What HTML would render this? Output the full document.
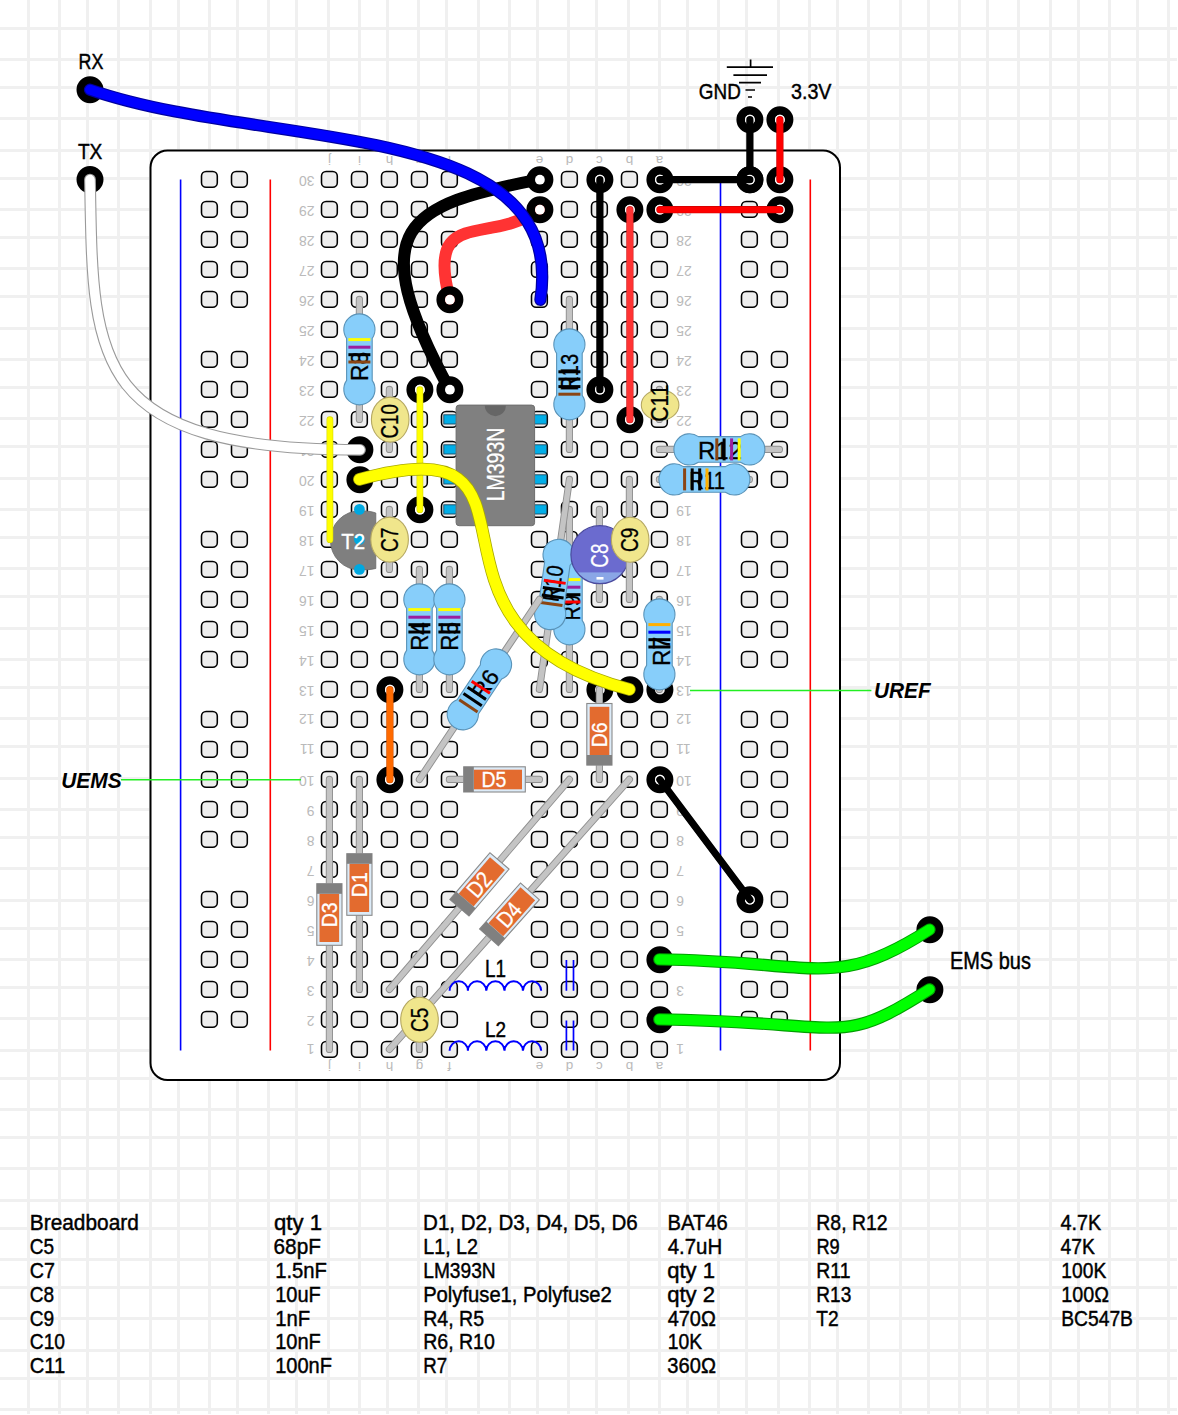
<!DOCTYPE html>
<html><head><meta charset="utf-8"><style>
html,body{margin:0;padding:0;background:#fff;width:1178px;height:1415px;overflow:hidden}
svg{display:block}
text{font-family:"Liberation Sans",sans-serif}
</style></head><body>
<svg width="1178" height="1415" viewBox="0 0 1178 1415">
<rect x="0" y="0" width="1178" height="1415" fill="#ffffff"/>
<path d="M28.5,0V1414M59.5,0V1414M87.5,0V1414M118.5,0V1414M150.5,0V1414M178.5,0V1414M209.5,0V1414M237.5,0V1414M268.5,0V1414M296.5,0V1414M328.5,0V1414M359.5,0V1414M387.5,0V1414M418.5,0V1414M446.5,0V1414M478.5,0V1414M509.5,0V1414M537.5,0V1414M568.5,0V1414M596.5,0V1414M628.5,0V1414M659.5,0V1414M687.5,0V1414M718.5,0V1414M746.5,0V1414M778.5,0V1414M809.5,0V1414M837.5,0V1414M868.5,0V1414M900.5,0V1414M928.5,0V1414M959.5,0V1414M987.5,0V1414M1018.5,0V1414M1050.5,0V1414M1078.5,0V1414M1109.5,0V1414M1137.5,0V1414M1168.5,0V1414M0,28.5H1177M0,59.5H1177M0,87.5H1177M0,118.5H1177M0,150.5H1177M0,178.5H1177M0,209.5H1177M0,237.5H1177M0,268.5H1177M0,296.5H1177M0,328.5H1177M0,359.5H1177M0,387.5H1177M0,418.5H1177M0,446.5H1177M0,478.5H1177M0,509.5H1177M0,537.5H1177M0,568.5H1177M0,596.5H1177M0,628.5H1177M0,659.5H1177M0,687.5H1177M0,718.5H1177M0,746.5H1177M0,778.5H1177M0,809.5H1177M0,837.5H1177M0,868.5H1177M0,900.5H1177M0,928.5H1177M0,959.5H1177M0,987.5H1177M0,1018.5H1177M0,1050.5H1177M0,1078.5H1177M0,1109.5H1177M0,1137.5H1177M0,1168.5H1177M0,1200.5H1177M0,1228.5H1177M0,1259.5H1177M0,1287.5H1177M0,1318.5H1177M0,1350.5H1177M0,1378.5H1177M0,1409.5H1177" stroke="#f0f0f0" stroke-width="3" fill="none"/>
<rect x="150.5" y="150.5" width="689.5" height="929.5" rx="17" ry="17" fill="#ffffff" stroke="#000" stroke-width="2"/>
<line x1="180.6" y1="179.5" x2="180.6" y2="1050.5" stroke="#0000ff" stroke-width="1.6"/>
<line x1="270.3" y1="179.5" x2="270.3" y2="1050.5" stroke="#ff0000" stroke-width="1.6"/>
<line x1="720.5" y1="179.5" x2="720.5" y2="1050.5" stroke="#0000ff" stroke-width="1.6"/>
<line x1="810.3" y1="179.5" x2="810.3" y2="1050.5" stroke="#ff0000" stroke-width="1.6"/>
<text x="314.6" y="1043.9" font-size="14" fill="#bababa" text-anchor="start" transform="rotate(180 314.6 1043.9)">1</text>
<text x="676.1" y="1043.9" font-size="14" fill="#bababa" text-anchor="end" transform="rotate(180 676.1 1043.9)">1</text>
<text x="314.6" y="1015.8" font-size="14" fill="#bababa" text-anchor="start" transform="rotate(180 314.6 1015.8)">2</text>
<text x="676.1" y="1015.8" font-size="14" fill="#bababa" text-anchor="end" transform="rotate(180 676.1 1015.8)">2</text>
<text x="314.6" y="985.8" font-size="14" fill="#bababa" text-anchor="start" transform="rotate(180 314.6 985.8)">3</text>
<text x="676.1" y="985.8" font-size="14" fill="#bababa" text-anchor="end" transform="rotate(180 676.1 985.8)">3</text>
<text x="314.6" y="955.8" font-size="14" fill="#bababa" text-anchor="start" transform="rotate(180 314.6 955.8)">4</text>
<text x="676.1" y="955.8" font-size="14" fill="#bababa" text-anchor="end" transform="rotate(180 676.1 955.8)">4</text>
<text x="314.6" y="925.8" font-size="14" fill="#bababa" text-anchor="start" transform="rotate(180 314.6 925.8)">5</text>
<text x="676.1" y="925.8" font-size="14" fill="#bababa" text-anchor="end" transform="rotate(180 676.1 925.8)">5</text>
<text x="314.6" y="895.8" font-size="14" fill="#bababa" text-anchor="start" transform="rotate(180 314.6 895.8)">6</text>
<text x="676.1" y="895.8" font-size="14" fill="#bababa" text-anchor="end" transform="rotate(180 676.1 895.8)">6</text>
<text x="314.6" y="865.8" font-size="14" fill="#bababa" text-anchor="start" transform="rotate(180 314.6 865.8)">7</text>
<text x="676.1" y="865.8" font-size="14" fill="#bababa" text-anchor="end" transform="rotate(180 676.1 865.8)">7</text>
<text x="314.6" y="835.8" font-size="14" fill="#bababa" text-anchor="start" transform="rotate(180 314.6 835.8)">8</text>
<text x="676.1" y="835.8" font-size="14" fill="#bababa" text-anchor="end" transform="rotate(180 676.1 835.8)">8</text>
<text x="314.6" y="805.8" font-size="14" fill="#bababa" text-anchor="start" transform="rotate(180 314.6 805.8)">9</text>
<text x="676.1" y="805.8" font-size="14" fill="#bababa" text-anchor="end" transform="rotate(180 676.1 805.8)">9</text>
<text x="314.6" y="775.8" font-size="14" fill="#bababa" text-anchor="start" transform="rotate(180 314.6 775.8)">10</text>
<text x="676.1" y="775.8" font-size="14" fill="#bababa" text-anchor="end" transform="rotate(180 676.1 775.8)">10</text>
<text x="314.6" y="743.9" font-size="14" fill="#bababa" text-anchor="start" transform="rotate(180 314.6 743.9)">11</text>
<text x="676.1" y="743.9" font-size="14" fill="#bababa" text-anchor="end" transform="rotate(180 676.1 743.9)">11</text>
<text x="314.6" y="714.1" font-size="14" fill="#bababa" text-anchor="start" transform="rotate(180 314.6 714.1)">12</text>
<text x="676.1" y="714.1" font-size="14" fill="#bababa" text-anchor="end" transform="rotate(180 676.1 714.1)">12</text>
<text x="314.6" y="685.8" font-size="14" fill="#bababa" text-anchor="start" transform="rotate(180 314.6 685.8)">13</text>
<text x="676.1" y="685.8" font-size="14" fill="#bababa" text-anchor="end" transform="rotate(180 676.1 685.8)">13</text>
<text x="314.6" y="655.8" font-size="14" fill="#bababa" text-anchor="start" transform="rotate(180 314.6 655.8)">14</text>
<text x="676.1" y="655.8" font-size="14" fill="#bababa" text-anchor="end" transform="rotate(180 676.1 655.8)">14</text>
<text x="314.6" y="625.8" font-size="14" fill="#bababa" text-anchor="start" transform="rotate(180 314.6 625.8)">15</text>
<text x="676.1" y="625.8" font-size="14" fill="#bababa" text-anchor="end" transform="rotate(180 676.1 625.8)">15</text>
<text x="314.6" y="595.8" font-size="14" fill="#bababa" text-anchor="start" transform="rotate(180 314.6 595.8)">16</text>
<text x="676.1" y="595.8" font-size="14" fill="#bababa" text-anchor="end" transform="rotate(180 676.1 595.8)">16</text>
<text x="314.6" y="565.8" font-size="14" fill="#bababa" text-anchor="start" transform="rotate(180 314.6 565.8)">17</text>
<text x="676.1" y="565.8" font-size="14" fill="#bababa" text-anchor="end" transform="rotate(180 676.1 565.8)">17</text>
<text x="314.6" y="535.8" font-size="14" fill="#bababa" text-anchor="start" transform="rotate(180 314.6 535.8)">18</text>
<text x="676.1" y="535.8" font-size="14" fill="#bababa" text-anchor="end" transform="rotate(180 676.1 535.8)">18</text>
<text x="314.6" y="505.8" font-size="14" fill="#bababa" text-anchor="start" transform="rotate(180 314.6 505.8)">19</text>
<text x="676.1" y="505.8" font-size="14" fill="#bababa" text-anchor="end" transform="rotate(180 676.1 505.8)">19</text>
<text x="314.6" y="475.8" font-size="14" fill="#bababa" text-anchor="start" transform="rotate(180 314.6 475.8)">20</text>
<text x="676.1" y="475.8" font-size="14" fill="#bababa" text-anchor="end" transform="rotate(180 676.1 475.8)">20</text>
<text x="314.6" y="445.8" font-size="14" fill="#bababa" text-anchor="start" transform="rotate(180 314.6 445.8)">21</text>
<text x="676.1" y="445.8" font-size="14" fill="#bababa" text-anchor="end" transform="rotate(180 676.1 445.8)">21</text>
<text x="314.6" y="415.8" font-size="14" fill="#bababa" text-anchor="start" transform="rotate(180 314.6 415.8)">22</text>
<text x="676.1" y="415.8" font-size="14" fill="#bababa" text-anchor="end" transform="rotate(180 676.1 415.8)">22</text>
<text x="314.6" y="385.8" font-size="14" fill="#bababa" text-anchor="start" transform="rotate(180 314.6 385.8)">23</text>
<text x="676.1" y="385.8" font-size="14" fill="#bababa" text-anchor="end" transform="rotate(180 676.1 385.8)">23</text>
<text x="314.6" y="355.8" font-size="14" fill="#bababa" text-anchor="start" transform="rotate(180 314.6 355.8)">24</text>
<text x="676.1" y="355.8" font-size="14" fill="#bababa" text-anchor="end" transform="rotate(180 676.1 355.8)">24</text>
<text x="314.6" y="325.8" font-size="14" fill="#bababa" text-anchor="start" transform="rotate(180 314.6 325.8)">25</text>
<text x="676.1" y="325.8" font-size="14" fill="#bababa" text-anchor="end" transform="rotate(180 676.1 325.8)">25</text>
<text x="314.6" y="295.8" font-size="14" fill="#bababa" text-anchor="start" transform="rotate(180 314.6 295.8)">26</text>
<text x="676.1" y="295.8" font-size="14" fill="#bababa" text-anchor="end" transform="rotate(180 676.1 295.8)">26</text>
<text x="314.6" y="265.8" font-size="14" fill="#bababa" text-anchor="start" transform="rotate(180 314.6 265.8)">27</text>
<text x="676.1" y="265.8" font-size="14" fill="#bababa" text-anchor="end" transform="rotate(180 676.1 265.8)">27</text>
<text x="314.6" y="235.8" font-size="14" fill="#bababa" text-anchor="start" transform="rotate(180 314.6 235.8)">28</text>
<text x="676.1" y="235.8" font-size="14" fill="#bababa" text-anchor="end" transform="rotate(180 676.1 235.8)">28</text>
<text x="314.6" y="205.8" font-size="14" fill="#bababa" text-anchor="start" transform="rotate(180 314.6 205.8)">29</text>
<text x="676.1" y="205.8" font-size="14" fill="#bababa" text-anchor="end" transform="rotate(180 676.1 205.8)">29</text>
<text x="314.6" y="175.8" font-size="14" fill="#bababa" text-anchor="start" transform="rotate(180 314.6 175.8)">30</text>
<text x="676.1" y="175.8" font-size="14" fill="#bababa" text-anchor="end" transform="rotate(180 676.1 175.8)">30</text>
<text x="329.4" y="156.2" font-size="13.5" fill="#bababa" text-anchor="middle" transform="rotate(180 329.4 156.2)">j</text>
<text x="329.4" y="1062.3" font-size="13.5" fill="#bababa" text-anchor="middle" transform="rotate(180 329.4 1062.3)">j</text>
<text x="359.4" y="156.2" font-size="13.5" fill="#bababa" text-anchor="middle" transform="rotate(180 359.4 156.2)">i</text>
<text x="359.4" y="1062.3" font-size="13.5" fill="#bababa" text-anchor="middle" transform="rotate(180 359.4 1062.3)">i</text>
<text x="389.4" y="156.2" font-size="13.5" fill="#bababa" text-anchor="middle" transform="rotate(180 389.4 156.2)">h</text>
<text x="389.4" y="1062.3" font-size="13.5" fill="#bababa" text-anchor="middle" transform="rotate(180 389.4 1062.3)">h</text>
<text x="419.4" y="156.2" font-size="13.5" fill="#bababa" text-anchor="middle" transform="rotate(180 419.4 156.2)">g</text>
<text x="419.4" y="1062.3" font-size="13.5" fill="#bababa" text-anchor="middle" transform="rotate(180 419.4 1062.3)">g</text>
<text x="449.4" y="156.2" font-size="13.5" fill="#bababa" text-anchor="middle" transform="rotate(180 449.4 156.2)">f</text>
<text x="449.4" y="1062.3" font-size="13.5" fill="#bababa" text-anchor="middle" transform="rotate(180 449.4 1062.3)">f</text>
<text x="539.4" y="156.2" font-size="13.5" fill="#bababa" text-anchor="middle" transform="rotate(180 539.4 156.2)">e</text>
<text x="539.4" y="1062.3" font-size="13.5" fill="#bababa" text-anchor="middle" transform="rotate(180 539.4 1062.3)">e</text>
<text x="569.4" y="156.2" font-size="13.5" fill="#bababa" text-anchor="middle" transform="rotate(180 569.4 156.2)">d</text>
<text x="569.4" y="1062.3" font-size="13.5" fill="#bababa" text-anchor="middle" transform="rotate(180 569.4 1062.3)">d</text>
<text x="599.4" y="156.2" font-size="13.5" fill="#bababa" text-anchor="middle" transform="rotate(180 599.4 156.2)">c</text>
<text x="599.4" y="1062.3" font-size="13.5" fill="#bababa" text-anchor="middle" transform="rotate(180 599.4 1062.3)">c</text>
<text x="629.4" y="156.2" font-size="13.5" fill="#bababa" text-anchor="middle" transform="rotate(180 629.4 156.2)">b</text>
<text x="629.4" y="1062.3" font-size="13.5" fill="#bababa" text-anchor="middle" transform="rotate(180 629.4 1062.3)">b</text>
<text x="659.4" y="156.2" font-size="13.5" fill="#bababa" text-anchor="middle" transform="rotate(180 659.4 156.2)">a</text>
<text x="659.4" y="1062.3" font-size="13.5" fill="#bababa" text-anchor="middle" transform="rotate(180 659.4 1062.3)">a</text>
<g fill="#eeeeee" stroke="#000" stroke-width="1.55"><rect x="321.5" y="1041.5" width="15.8" height="15.8" rx="4.6"/><rect x="321.5" y="1011.5" width="15.8" height="15.8" rx="4.6"/><rect x="321.5" y="981.5" width="15.8" height="15.8" rx="4.6"/><rect x="321.5" y="951.5" width="15.8" height="15.8" rx="4.6"/><rect x="321.5" y="921.5" width="15.8" height="15.8" rx="4.6"/><rect x="321.5" y="891.5" width="15.8" height="15.8" rx="4.6"/><rect x="321.5" y="861.5" width="15.8" height="15.8" rx="4.6"/><rect x="321.5" y="831.5" width="15.8" height="15.8" rx="4.6"/><rect x="321.5" y="801.5" width="15.8" height="15.8" rx="4.6"/><rect x="321.5" y="771.5" width="15.8" height="15.8" rx="4.6"/><rect x="321.5" y="741.5" width="15.8" height="15.8" rx="4.6"/><rect x="321.5" y="711.5" width="15.8" height="15.8" rx="4.6"/><rect x="321.5" y="681.5" width="15.8" height="15.8" rx="4.6"/><rect x="321.5" y="651.5" width="15.8" height="15.8" rx="4.6"/><rect x="321.5" y="621.5" width="15.8" height="15.8" rx="4.6"/><rect x="321.5" y="591.5" width="15.8" height="15.8" rx="4.6"/><rect x="321.5" y="561.5" width="15.8" height="15.8" rx="4.6"/><rect x="321.5" y="531.5" width="15.8" height="15.8" rx="4.6"/><rect x="321.5" y="501.5" width="15.8" height="15.8" rx="4.6"/><rect x="321.5" y="471.5" width="15.8" height="15.8" rx="4.6"/><rect x="321.5" y="441.5" width="15.8" height="15.8" rx="4.6"/><rect x="321.5" y="411.5" width="15.8" height="15.8" rx="4.6"/><rect x="321.5" y="381.5" width="15.8" height="15.8" rx="4.6"/><rect x="321.5" y="351.5" width="15.8" height="15.8" rx="4.6"/><rect x="321.5" y="321.5" width="15.8" height="15.8" rx="4.6"/><rect x="321.5" y="291.5" width="15.8" height="15.8" rx="4.6"/><rect x="321.5" y="261.5" width="15.8" height="15.8" rx="4.6"/><rect x="321.5" y="231.5" width="15.8" height="15.8" rx="4.6"/><rect x="321.5" y="201.5" width="15.8" height="15.8" rx="4.6"/><rect x="321.5" y="171.5" width="15.8" height="15.8" rx="4.6"/><rect x="351.5" y="1041.5" width="15.8" height="15.8" rx="4.6"/><rect x="351.5" y="1011.5" width="15.8" height="15.8" rx="4.6"/><rect x="351.5" y="981.5" width="15.8" height="15.8" rx="4.6"/><rect x="351.5" y="951.5" width="15.8" height="15.8" rx="4.6"/><rect x="351.5" y="921.5" width="15.8" height="15.8" rx="4.6"/><rect x="351.5" y="891.5" width="15.8" height="15.8" rx="4.6"/><rect x="351.5" y="861.5" width="15.8" height="15.8" rx="4.6"/><rect x="351.5" y="831.5" width="15.8" height="15.8" rx="4.6"/><rect x="351.5" y="801.5" width="15.8" height="15.8" rx="4.6"/><rect x="351.5" y="771.5" width="15.8" height="15.8" rx="4.6"/><rect x="351.5" y="741.5" width="15.8" height="15.8" rx="4.6"/><rect x="351.5" y="711.5" width="15.8" height="15.8" rx="4.6"/><rect x="351.5" y="681.5" width="15.8" height="15.8" rx="4.6"/><rect x="351.5" y="651.5" width="15.8" height="15.8" rx="4.6"/><rect x="351.5" y="621.5" width="15.8" height="15.8" rx="4.6"/><rect x="351.5" y="591.5" width="15.8" height="15.8" rx="4.6"/><rect x="351.5" y="561.5" width="15.8" height="15.8" rx="4.6"/><rect x="351.5" y="531.5" width="15.8" height="15.8" rx="4.6"/><rect x="351.5" y="501.5" width="15.8" height="15.8" rx="4.6"/><rect x="351.5" y="471.5" width="15.8" height="15.8" rx="4.6"/><rect x="351.5" y="441.5" width="15.8" height="15.8" rx="4.6"/><rect x="351.5" y="411.5" width="15.8" height="15.8" rx="4.6"/><rect x="351.5" y="381.5" width="15.8" height="15.8" rx="4.6"/><rect x="351.5" y="351.5" width="15.8" height="15.8" rx="4.6"/><rect x="351.5" y="321.5" width="15.8" height="15.8" rx="4.6"/><rect x="351.5" y="291.5" width="15.8" height="15.8" rx="4.6"/><rect x="351.5" y="261.5" width="15.8" height="15.8" rx="4.6"/><rect x="351.5" y="231.5" width="15.8" height="15.8" rx="4.6"/><rect x="351.5" y="201.5" width="15.8" height="15.8" rx="4.6"/><rect x="351.5" y="171.5" width="15.8" height="15.8" rx="4.6"/><rect x="381.5" y="1041.5" width="15.8" height="15.8" rx="4.6"/><rect x="381.5" y="1011.5" width="15.8" height="15.8" rx="4.6"/><rect x="381.5" y="981.5" width="15.8" height="15.8" rx="4.6"/><rect x="381.5" y="951.5" width="15.8" height="15.8" rx="4.6"/><rect x="381.5" y="921.5" width="15.8" height="15.8" rx="4.6"/><rect x="381.5" y="891.5" width="15.8" height="15.8" rx="4.6"/><rect x="381.5" y="861.5" width="15.8" height="15.8" rx="4.6"/><rect x="381.5" y="831.5" width="15.8" height="15.8" rx="4.6"/><rect x="381.5" y="801.5" width="15.8" height="15.8" rx="4.6"/><rect x="381.5" y="771.5" width="15.8" height="15.8" rx="4.6"/><rect x="381.5" y="741.5" width="15.8" height="15.8" rx="4.6"/><rect x="381.5" y="711.5" width="15.8" height="15.8" rx="4.6"/><rect x="381.5" y="681.5" width="15.8" height="15.8" rx="4.6"/><rect x="381.5" y="651.5" width="15.8" height="15.8" rx="4.6"/><rect x="381.5" y="621.5" width="15.8" height="15.8" rx="4.6"/><rect x="381.5" y="591.5" width="15.8" height="15.8" rx="4.6"/><rect x="381.5" y="561.5" width="15.8" height="15.8" rx="4.6"/><rect x="381.5" y="531.5" width="15.8" height="15.8" rx="4.6"/><rect x="381.5" y="501.5" width="15.8" height="15.8" rx="4.6"/><rect x="381.5" y="471.5" width="15.8" height="15.8" rx="4.6"/><rect x="381.5" y="441.5" width="15.8" height="15.8" rx="4.6"/><rect x="381.5" y="411.5" width="15.8" height="15.8" rx="4.6"/><rect x="381.5" y="381.5" width="15.8" height="15.8" rx="4.6"/><rect x="381.5" y="351.5" width="15.8" height="15.8" rx="4.6"/><rect x="381.5" y="321.5" width="15.8" height="15.8" rx="4.6"/><rect x="381.5" y="291.5" width="15.8" height="15.8" rx="4.6"/><rect x="381.5" y="261.5" width="15.8" height="15.8" rx="4.6"/><rect x="381.5" y="231.5" width="15.8" height="15.8" rx="4.6"/><rect x="381.5" y="201.5" width="15.8" height="15.8" rx="4.6"/><rect x="381.5" y="171.5" width="15.8" height="15.8" rx="4.6"/><rect x="411.5" y="1041.5" width="15.8" height="15.8" rx="4.6"/><rect x="411.5" y="1011.5" width="15.8" height="15.8" rx="4.6"/><rect x="411.5" y="981.5" width="15.8" height="15.8" rx="4.6"/><rect x="411.5" y="951.5" width="15.8" height="15.8" rx="4.6"/><rect x="411.5" y="921.5" width="15.8" height="15.8" rx="4.6"/><rect x="411.5" y="891.5" width="15.8" height="15.8" rx="4.6"/><rect x="411.5" y="861.5" width="15.8" height="15.8" rx="4.6"/><rect x="411.5" y="831.5" width="15.8" height="15.8" rx="4.6"/><rect x="411.5" y="801.5" width="15.8" height="15.8" rx="4.6"/><rect x="411.5" y="771.5" width="15.8" height="15.8" rx="4.6"/><rect x="411.5" y="741.5" width="15.8" height="15.8" rx="4.6"/><rect x="411.5" y="711.5" width="15.8" height="15.8" rx="4.6"/><rect x="411.5" y="681.5" width="15.8" height="15.8" rx="4.6"/><rect x="411.5" y="651.5" width="15.8" height="15.8" rx="4.6"/><rect x="411.5" y="621.5" width="15.8" height="15.8" rx="4.6"/><rect x="411.5" y="591.5" width="15.8" height="15.8" rx="4.6"/><rect x="411.5" y="561.5" width="15.8" height="15.8" rx="4.6"/><rect x="411.5" y="531.5" width="15.8" height="15.8" rx="4.6"/><rect x="411.5" y="501.5" width="15.8" height="15.8" rx="4.6"/><rect x="411.5" y="471.5" width="15.8" height="15.8" rx="4.6"/><rect x="411.5" y="441.5" width="15.8" height="15.8" rx="4.6"/><rect x="411.5" y="411.5" width="15.8" height="15.8" rx="4.6"/><rect x="411.5" y="381.5" width="15.8" height="15.8" rx="4.6"/><rect x="411.5" y="351.5" width="15.8" height="15.8" rx="4.6"/><rect x="411.5" y="321.5" width="15.8" height="15.8" rx="4.6"/><rect x="411.5" y="291.5" width="15.8" height="15.8" rx="4.6"/><rect x="411.5" y="261.5" width="15.8" height="15.8" rx="4.6"/><rect x="411.5" y="231.5" width="15.8" height="15.8" rx="4.6"/><rect x="411.5" y="201.5" width="15.8" height="15.8" rx="4.6"/><rect x="411.5" y="171.5" width="15.8" height="15.8" rx="4.6"/><rect x="441.5" y="1041.5" width="15.8" height="15.8" rx="4.6"/><rect x="441.5" y="1011.5" width="15.8" height="15.8" rx="4.6"/><rect x="441.5" y="981.5" width="15.8" height="15.8" rx="4.6"/><rect x="441.5" y="951.5" width="15.8" height="15.8" rx="4.6"/><rect x="441.5" y="921.5" width="15.8" height="15.8" rx="4.6"/><rect x="441.5" y="891.5" width="15.8" height="15.8" rx="4.6"/><rect x="441.5" y="861.5" width="15.8" height="15.8" rx="4.6"/><rect x="441.5" y="831.5" width="15.8" height="15.8" rx="4.6"/><rect x="441.5" y="801.5" width="15.8" height="15.8" rx="4.6"/><rect x="441.5" y="771.5" width="15.8" height="15.8" rx="4.6"/><rect x="441.5" y="741.5" width="15.8" height="15.8" rx="4.6"/><rect x="441.5" y="711.5" width="15.8" height="15.8" rx="4.6"/><rect x="441.5" y="681.5" width="15.8" height="15.8" rx="4.6"/><rect x="441.5" y="651.5" width="15.8" height="15.8" rx="4.6"/><rect x="441.5" y="621.5" width="15.8" height="15.8" rx="4.6"/><rect x="441.5" y="591.5" width="15.8" height="15.8" rx="4.6"/><rect x="441.5" y="561.5" width="15.8" height="15.8" rx="4.6"/><rect x="441.5" y="531.5" width="15.8" height="15.8" rx="4.6"/><rect x="441.5" y="501.5" width="15.8" height="15.8" rx="4.6"/><rect x="441.5" y="471.5" width="15.8" height="15.8" rx="4.6"/><rect x="441.5" y="441.5" width="15.8" height="15.8" rx="4.6"/><rect x="441.5" y="411.5" width="15.8" height="15.8" rx="4.6"/><rect x="441.5" y="381.5" width="15.8" height="15.8" rx="4.6"/><rect x="441.5" y="351.5" width="15.8" height="15.8" rx="4.6"/><rect x="441.5" y="321.5" width="15.8" height="15.8" rx="4.6"/><rect x="441.5" y="291.5" width="15.8" height="15.8" rx="4.6"/><rect x="441.5" y="261.5" width="15.8" height="15.8" rx="4.6"/><rect x="441.5" y="231.5" width="15.8" height="15.8" rx="4.6"/><rect x="441.5" y="201.5" width="15.8" height="15.8" rx="4.6"/><rect x="441.5" y="171.5" width="15.8" height="15.8" rx="4.6"/><rect x="531.5" y="1041.5" width="15.8" height="15.8" rx="4.6"/><rect x="531.5" y="1011.5" width="15.8" height="15.8" rx="4.6"/><rect x="531.5" y="981.5" width="15.8" height="15.8" rx="4.6"/><rect x="531.5" y="951.5" width="15.8" height="15.8" rx="4.6"/><rect x="531.5" y="921.5" width="15.8" height="15.8" rx="4.6"/><rect x="531.5" y="891.5" width="15.8" height="15.8" rx="4.6"/><rect x="531.5" y="861.5" width="15.8" height="15.8" rx="4.6"/><rect x="531.5" y="831.5" width="15.8" height="15.8" rx="4.6"/><rect x="531.5" y="801.5" width="15.8" height="15.8" rx="4.6"/><rect x="531.5" y="771.5" width="15.8" height="15.8" rx="4.6"/><rect x="531.5" y="741.5" width="15.8" height="15.8" rx="4.6"/><rect x="531.5" y="711.5" width="15.8" height="15.8" rx="4.6"/><rect x="531.5" y="681.5" width="15.8" height="15.8" rx="4.6"/><rect x="531.5" y="651.5" width="15.8" height="15.8" rx="4.6"/><rect x="531.5" y="621.5" width="15.8" height="15.8" rx="4.6"/><rect x="531.5" y="591.5" width="15.8" height="15.8" rx="4.6"/><rect x="531.5" y="561.5" width="15.8" height="15.8" rx="4.6"/><rect x="531.5" y="531.5" width="15.8" height="15.8" rx="4.6"/><rect x="531.5" y="501.5" width="15.8" height="15.8" rx="4.6"/><rect x="531.5" y="471.5" width="15.8" height="15.8" rx="4.6"/><rect x="531.5" y="441.5" width="15.8" height="15.8" rx="4.6"/><rect x="531.5" y="411.5" width="15.8" height="15.8" rx="4.6"/><rect x="531.5" y="381.5" width="15.8" height="15.8" rx="4.6"/><rect x="531.5" y="351.5" width="15.8" height="15.8" rx="4.6"/><rect x="531.5" y="321.5" width="15.8" height="15.8" rx="4.6"/><rect x="531.5" y="291.5" width="15.8" height="15.8" rx="4.6"/><rect x="531.5" y="261.5" width="15.8" height="15.8" rx="4.6"/><rect x="531.5" y="231.5" width="15.8" height="15.8" rx="4.6"/><rect x="531.5" y="201.5" width="15.8" height="15.8" rx="4.6"/><rect x="531.5" y="171.5" width="15.8" height="15.8" rx="4.6"/><rect x="561.5" y="1041.5" width="15.8" height="15.8" rx="4.6"/><rect x="561.5" y="1011.5" width="15.8" height="15.8" rx="4.6"/><rect x="561.5" y="981.5" width="15.8" height="15.8" rx="4.6"/><rect x="561.5" y="951.5" width="15.8" height="15.8" rx="4.6"/><rect x="561.5" y="921.5" width="15.8" height="15.8" rx="4.6"/><rect x="561.5" y="891.5" width="15.8" height="15.8" rx="4.6"/><rect x="561.5" y="861.5" width="15.8" height="15.8" rx="4.6"/><rect x="561.5" y="831.5" width="15.8" height="15.8" rx="4.6"/><rect x="561.5" y="801.5" width="15.8" height="15.8" rx="4.6"/><rect x="561.5" y="771.5" width="15.8" height="15.8" rx="4.6"/><rect x="561.5" y="741.5" width="15.8" height="15.8" rx="4.6"/><rect x="561.5" y="711.5" width="15.8" height="15.8" rx="4.6"/><rect x="561.5" y="681.5" width="15.8" height="15.8" rx="4.6"/><rect x="561.5" y="651.5" width="15.8" height="15.8" rx="4.6"/><rect x="561.5" y="621.5" width="15.8" height="15.8" rx="4.6"/><rect x="561.5" y="591.5" width="15.8" height="15.8" rx="4.6"/><rect x="561.5" y="561.5" width="15.8" height="15.8" rx="4.6"/><rect x="561.5" y="531.5" width="15.8" height="15.8" rx="4.6"/><rect x="561.5" y="501.5" width="15.8" height="15.8" rx="4.6"/><rect x="561.5" y="471.5" width="15.8" height="15.8" rx="4.6"/><rect x="561.5" y="441.5" width="15.8" height="15.8" rx="4.6"/><rect x="561.5" y="411.5" width="15.8" height="15.8" rx="4.6"/><rect x="561.5" y="381.5" width="15.8" height="15.8" rx="4.6"/><rect x="561.5" y="351.5" width="15.8" height="15.8" rx="4.6"/><rect x="561.5" y="321.5" width="15.8" height="15.8" rx="4.6"/><rect x="561.5" y="291.5" width="15.8" height="15.8" rx="4.6"/><rect x="561.5" y="261.5" width="15.8" height="15.8" rx="4.6"/><rect x="561.5" y="231.5" width="15.8" height="15.8" rx="4.6"/><rect x="561.5" y="201.5" width="15.8" height="15.8" rx="4.6"/><rect x="561.5" y="171.5" width="15.8" height="15.8" rx="4.6"/><rect x="591.5" y="1041.5" width="15.8" height="15.8" rx="4.6"/><rect x="591.5" y="1011.5" width="15.8" height="15.8" rx="4.6"/><rect x="591.5" y="981.5" width="15.8" height="15.8" rx="4.6"/><rect x="591.5" y="951.5" width="15.8" height="15.8" rx="4.6"/><rect x="591.5" y="921.5" width="15.8" height="15.8" rx="4.6"/><rect x="591.5" y="891.5" width="15.8" height="15.8" rx="4.6"/><rect x="591.5" y="861.5" width="15.8" height="15.8" rx="4.6"/><rect x="591.5" y="831.5" width="15.8" height="15.8" rx="4.6"/><rect x="591.5" y="801.5" width="15.8" height="15.8" rx="4.6"/><rect x="591.5" y="771.5" width="15.8" height="15.8" rx="4.6"/><rect x="591.5" y="741.5" width="15.8" height="15.8" rx="4.6"/><rect x="591.5" y="711.5" width="15.8" height="15.8" rx="4.6"/><rect x="591.5" y="681.5" width="15.8" height="15.8" rx="4.6"/><rect x="591.5" y="651.5" width="15.8" height="15.8" rx="4.6"/><rect x="591.5" y="621.5" width="15.8" height="15.8" rx="4.6"/><rect x="591.5" y="591.5" width="15.8" height="15.8" rx="4.6"/><rect x="591.5" y="561.5" width="15.8" height="15.8" rx="4.6"/><rect x="591.5" y="531.5" width="15.8" height="15.8" rx="4.6"/><rect x="591.5" y="501.5" width="15.8" height="15.8" rx="4.6"/><rect x="591.5" y="471.5" width="15.8" height="15.8" rx="4.6"/><rect x="591.5" y="441.5" width="15.8" height="15.8" rx="4.6"/><rect x="591.5" y="411.5" width="15.8" height="15.8" rx="4.6"/><rect x="591.5" y="381.5" width="15.8" height="15.8" rx="4.6"/><rect x="591.5" y="351.5" width="15.8" height="15.8" rx="4.6"/><rect x="591.5" y="321.5" width="15.8" height="15.8" rx="4.6"/><rect x="591.5" y="291.5" width="15.8" height="15.8" rx="4.6"/><rect x="591.5" y="261.5" width="15.8" height="15.8" rx="4.6"/><rect x="591.5" y="231.5" width="15.8" height="15.8" rx="4.6"/><rect x="591.5" y="201.5" width="15.8" height="15.8" rx="4.6"/><rect x="591.5" y="171.5" width="15.8" height="15.8" rx="4.6"/><rect x="621.5" y="1041.5" width="15.8" height="15.8" rx="4.6"/><rect x="621.5" y="1011.5" width="15.8" height="15.8" rx="4.6"/><rect x="621.5" y="981.5" width="15.8" height="15.8" rx="4.6"/><rect x="621.5" y="951.5" width="15.8" height="15.8" rx="4.6"/><rect x="621.5" y="921.5" width="15.8" height="15.8" rx="4.6"/><rect x="621.5" y="891.5" width="15.8" height="15.8" rx="4.6"/><rect x="621.5" y="861.5" width="15.8" height="15.8" rx="4.6"/><rect x="621.5" y="831.5" width="15.8" height="15.8" rx="4.6"/><rect x="621.5" y="801.5" width="15.8" height="15.8" rx="4.6"/><rect x="621.5" y="771.5" width="15.8" height="15.8" rx="4.6"/><rect x="621.5" y="741.5" width="15.8" height="15.8" rx="4.6"/><rect x="621.5" y="711.5" width="15.8" height="15.8" rx="4.6"/><rect x="621.5" y="681.5" width="15.8" height="15.8" rx="4.6"/><rect x="621.5" y="651.5" width="15.8" height="15.8" rx="4.6"/><rect x="621.5" y="621.5" width="15.8" height="15.8" rx="4.6"/><rect x="621.5" y="591.5" width="15.8" height="15.8" rx="4.6"/><rect x="621.5" y="561.5" width="15.8" height="15.8" rx="4.6"/><rect x="621.5" y="531.5" width="15.8" height="15.8" rx="4.6"/><rect x="621.5" y="501.5" width="15.8" height="15.8" rx="4.6"/><rect x="621.5" y="471.5" width="15.8" height="15.8" rx="4.6"/><rect x="621.5" y="441.5" width="15.8" height="15.8" rx="4.6"/><rect x="621.5" y="411.5" width="15.8" height="15.8" rx="4.6"/><rect x="621.5" y="381.5" width="15.8" height="15.8" rx="4.6"/><rect x="621.5" y="351.5" width="15.8" height="15.8" rx="4.6"/><rect x="621.5" y="321.5" width="15.8" height="15.8" rx="4.6"/><rect x="621.5" y="291.5" width="15.8" height="15.8" rx="4.6"/><rect x="621.5" y="261.5" width="15.8" height="15.8" rx="4.6"/><rect x="621.5" y="231.5" width="15.8" height="15.8" rx="4.6"/><rect x="621.5" y="201.5" width="15.8" height="15.8" rx="4.6"/><rect x="621.5" y="171.5" width="15.8" height="15.8" rx="4.6"/><rect x="651.5" y="1041.5" width="15.8" height="15.8" rx="4.6"/><rect x="651.5" y="1011.5" width="15.8" height="15.8" rx="4.6"/><rect x="651.5" y="981.5" width="15.8" height="15.8" rx="4.6"/><rect x="651.5" y="951.5" width="15.8" height="15.8" rx="4.6"/><rect x="651.5" y="921.5" width="15.8" height="15.8" rx="4.6"/><rect x="651.5" y="891.5" width="15.8" height="15.8" rx="4.6"/><rect x="651.5" y="861.5" width="15.8" height="15.8" rx="4.6"/><rect x="651.5" y="831.5" width="15.8" height="15.8" rx="4.6"/><rect x="651.5" y="801.5" width="15.8" height="15.8" rx="4.6"/><rect x="651.5" y="771.5" width="15.8" height="15.8" rx="4.6"/><rect x="651.5" y="741.5" width="15.8" height="15.8" rx="4.6"/><rect x="651.5" y="711.5" width="15.8" height="15.8" rx="4.6"/><rect x="651.5" y="681.5" width="15.8" height="15.8" rx="4.6"/><rect x="651.5" y="651.5" width="15.8" height="15.8" rx="4.6"/><rect x="651.5" y="621.5" width="15.8" height="15.8" rx="4.6"/><rect x="651.5" y="591.5" width="15.8" height="15.8" rx="4.6"/><rect x="651.5" y="561.5" width="15.8" height="15.8" rx="4.6"/><rect x="651.5" y="531.5" width="15.8" height="15.8" rx="4.6"/><rect x="651.5" y="501.5" width="15.8" height="15.8" rx="4.6"/><rect x="651.5" y="471.5" width="15.8" height="15.8" rx="4.6"/><rect x="651.5" y="441.5" width="15.8" height="15.8" rx="4.6"/><rect x="651.5" y="411.5" width="15.8" height="15.8" rx="4.6"/><rect x="651.5" y="381.5" width="15.8" height="15.8" rx="4.6"/><rect x="651.5" y="351.5" width="15.8" height="15.8" rx="4.6"/><rect x="651.5" y="321.5" width="15.8" height="15.8" rx="4.6"/><rect x="651.5" y="291.5" width="15.8" height="15.8" rx="4.6"/><rect x="651.5" y="261.5" width="15.8" height="15.8" rx="4.6"/><rect x="651.5" y="231.5" width="15.8" height="15.8" rx="4.6"/><rect x="651.5" y="201.5" width="15.8" height="15.8" rx="4.6"/><rect x="651.5" y="171.5" width="15.8" height="15.8" rx="4.6"/><rect x="201.5" y="171.5" width="15.8" height="15.8" rx="4.6"/><rect x="231.5" y="171.5" width="15.8" height="15.8" rx="4.6"/><rect x="741.5" y="171.5" width="15.8" height="15.8" rx="4.6"/><rect x="771.5" y="171.5" width="15.8" height="15.8" rx="4.6"/><rect x="201.5" y="201.5" width="15.8" height="15.8" rx="4.6"/><rect x="231.5" y="201.5" width="15.8" height="15.8" rx="4.6"/><rect x="741.5" y="201.5" width="15.8" height="15.8" rx="4.6"/><rect x="771.5" y="201.5" width="15.8" height="15.8" rx="4.6"/><rect x="201.5" y="231.5" width="15.8" height="15.8" rx="4.6"/><rect x="231.5" y="231.5" width="15.8" height="15.8" rx="4.6"/><rect x="741.5" y="231.5" width="15.8" height="15.8" rx="4.6"/><rect x="771.5" y="231.5" width="15.8" height="15.8" rx="4.6"/><rect x="201.5" y="261.5" width="15.8" height="15.8" rx="4.6"/><rect x="231.5" y="261.5" width="15.8" height="15.8" rx="4.6"/><rect x="741.5" y="261.5" width="15.8" height="15.8" rx="4.6"/><rect x="771.5" y="261.5" width="15.8" height="15.8" rx="4.6"/><rect x="201.5" y="291.5" width="15.8" height="15.8" rx="4.6"/><rect x="231.5" y="291.5" width="15.8" height="15.8" rx="4.6"/><rect x="741.5" y="291.5" width="15.8" height="15.8" rx="4.6"/><rect x="771.5" y="291.5" width="15.8" height="15.8" rx="4.6"/><rect x="201.5" y="351.5" width="15.8" height="15.8" rx="4.6"/><rect x="231.5" y="351.5" width="15.8" height="15.8" rx="4.6"/><rect x="741.5" y="351.5" width="15.8" height="15.8" rx="4.6"/><rect x="771.5" y="351.5" width="15.8" height="15.8" rx="4.6"/><rect x="201.5" y="381.5" width="15.8" height="15.8" rx="4.6"/><rect x="231.5" y="381.5" width="15.8" height="15.8" rx="4.6"/><rect x="741.5" y="381.5" width="15.8" height="15.8" rx="4.6"/><rect x="771.5" y="381.5" width="15.8" height="15.8" rx="4.6"/><rect x="201.5" y="411.5" width="15.8" height="15.8" rx="4.6"/><rect x="231.5" y="411.5" width="15.8" height="15.8" rx="4.6"/><rect x="741.5" y="411.5" width="15.8" height="15.8" rx="4.6"/><rect x="771.5" y="411.5" width="15.8" height="15.8" rx="4.6"/><rect x="201.5" y="441.5" width="15.8" height="15.8" rx="4.6"/><rect x="231.5" y="441.5" width="15.8" height="15.8" rx="4.6"/><rect x="741.5" y="441.5" width="15.8" height="15.8" rx="4.6"/><rect x="771.5" y="441.5" width="15.8" height="15.8" rx="4.6"/><rect x="201.5" y="471.5" width="15.8" height="15.8" rx="4.6"/><rect x="231.5" y="471.5" width="15.8" height="15.8" rx="4.6"/><rect x="741.5" y="471.5" width="15.8" height="15.8" rx="4.6"/><rect x="771.5" y="471.5" width="15.8" height="15.8" rx="4.6"/><rect x="201.5" y="531.5" width="15.8" height="15.8" rx="4.6"/><rect x="231.5" y="531.5" width="15.8" height="15.8" rx="4.6"/><rect x="741.5" y="531.5" width="15.8" height="15.8" rx="4.6"/><rect x="771.5" y="531.5" width="15.8" height="15.8" rx="4.6"/><rect x="201.5" y="561.5" width="15.8" height="15.8" rx="4.6"/><rect x="231.5" y="561.5" width="15.8" height="15.8" rx="4.6"/><rect x="741.5" y="561.5" width="15.8" height="15.8" rx="4.6"/><rect x="771.5" y="561.5" width="15.8" height="15.8" rx="4.6"/><rect x="201.5" y="591.5" width="15.8" height="15.8" rx="4.6"/><rect x="231.5" y="591.5" width="15.8" height="15.8" rx="4.6"/><rect x="741.5" y="591.5" width="15.8" height="15.8" rx="4.6"/><rect x="771.5" y="591.5" width="15.8" height="15.8" rx="4.6"/><rect x="201.5" y="621.5" width="15.8" height="15.8" rx="4.6"/><rect x="231.5" y="621.5" width="15.8" height="15.8" rx="4.6"/><rect x="741.5" y="621.5" width="15.8" height="15.8" rx="4.6"/><rect x="771.5" y="621.5" width="15.8" height="15.8" rx="4.6"/><rect x="201.5" y="651.5" width="15.8" height="15.8" rx="4.6"/><rect x="231.5" y="651.5" width="15.8" height="15.8" rx="4.6"/><rect x="741.5" y="651.5" width="15.8" height="15.8" rx="4.6"/><rect x="771.5" y="651.5" width="15.8" height="15.8" rx="4.6"/><rect x="201.5" y="711.5" width="15.8" height="15.8" rx="4.6"/><rect x="231.5" y="711.5" width="15.8" height="15.8" rx="4.6"/><rect x="741.5" y="711.5" width="15.8" height="15.8" rx="4.6"/><rect x="771.5" y="711.5" width="15.8" height="15.8" rx="4.6"/><rect x="201.5" y="741.5" width="15.8" height="15.8" rx="4.6"/><rect x="231.5" y="741.5" width="15.8" height="15.8" rx="4.6"/><rect x="741.5" y="741.5" width="15.8" height="15.8" rx="4.6"/><rect x="771.5" y="741.5" width="15.8" height="15.8" rx="4.6"/><rect x="201.5" y="771.5" width="15.8" height="15.8" rx="4.6"/><rect x="231.5" y="771.5" width="15.8" height="15.8" rx="4.6"/><rect x="741.5" y="771.5" width="15.8" height="15.8" rx="4.6"/><rect x="771.5" y="771.5" width="15.8" height="15.8" rx="4.6"/><rect x="201.5" y="801.5" width="15.8" height="15.8" rx="4.6"/><rect x="231.5" y="801.5" width="15.8" height="15.8" rx="4.6"/><rect x="741.5" y="801.5" width="15.8" height="15.8" rx="4.6"/><rect x="771.5" y="801.5" width="15.8" height="15.8" rx="4.6"/><rect x="201.5" y="831.5" width="15.8" height="15.8" rx="4.6"/><rect x="231.5" y="831.5" width="15.8" height="15.8" rx="4.6"/><rect x="741.5" y="831.5" width="15.8" height="15.8" rx="4.6"/><rect x="771.5" y="831.5" width="15.8" height="15.8" rx="4.6"/><rect x="201.5" y="891.5" width="15.8" height="15.8" rx="4.6"/><rect x="231.5" y="891.5" width="15.8" height="15.8" rx="4.6"/><rect x="741.5" y="891.5" width="15.8" height="15.8" rx="4.6"/><rect x="771.5" y="891.5" width="15.8" height="15.8" rx="4.6"/><rect x="201.5" y="921.5" width="15.8" height="15.8" rx="4.6"/><rect x="231.5" y="921.5" width="15.8" height="15.8" rx="4.6"/><rect x="741.5" y="921.5" width="15.8" height="15.8" rx="4.6"/><rect x="771.5" y="921.5" width="15.8" height="15.8" rx="4.6"/><rect x="201.5" y="951.5" width="15.8" height="15.8" rx="4.6"/><rect x="231.5" y="951.5" width="15.8" height="15.8" rx="4.6"/><rect x="741.5" y="951.5" width="15.8" height="15.8" rx="4.6"/><rect x="771.5" y="951.5" width="15.8" height="15.8" rx="4.6"/><rect x="201.5" y="981.5" width="15.8" height="15.8" rx="4.6"/><rect x="231.5" y="981.5" width="15.8" height="15.8" rx="4.6"/><rect x="741.5" y="981.5" width="15.8" height="15.8" rx="4.6"/><rect x="771.5" y="981.5" width="15.8" height="15.8" rx="4.6"/><rect x="201.5" y="1011.5" width="15.8" height="15.8" rx="4.6"/><rect x="231.5" y="1011.5" width="15.8" height="15.8" rx="4.6"/><rect x="741.5" y="1011.5" width="15.8" height="15.8" rx="4.6"/><rect x="771.5" y="1011.5" width="15.8" height="15.8" rx="4.6"/></g>
<circle cx="599.9" cy="689.7" r="9.2" fill="none" stroke="#000" stroke-width="8.6"/>
<circle cx="659.9" cy="689.7" r="9.2" fill="none" stroke="#000" stroke-width="8.6"/>
<rect x="443.8" y="414.8" width="14" height="9.2" fill="#00aee8" stroke="#1a4a60" stroke-width="0.9"/>
<rect x="532.8" y="414.8" width="14" height="9.2" fill="#00aee8" stroke="#1a4a60" stroke-width="0.9"/>
<rect x="443.8" y="444.8" width="14" height="9.2" fill="#00aee8" stroke="#1a4a60" stroke-width="0.9"/>
<rect x="532.8" y="444.8" width="14" height="9.2" fill="#00aee8" stroke="#1a4a60" stroke-width="0.9"/>
<rect x="443.8" y="474.8" width="14" height="9.2" fill="#00aee8" stroke="#1a4a60" stroke-width="0.9"/>
<rect x="532.8" y="474.8" width="14" height="9.2" fill="#00aee8" stroke="#1a4a60" stroke-width="0.9"/>
<rect x="443.8" y="504.8" width="14" height="9.2" fill="#00aee8" stroke="#1a4a60" stroke-width="0.9"/>
<rect x="532.8" y="504.8" width="14" height="9.2" fill="#00aee8" stroke="#1a4a60" stroke-width="0.9"/>
<rect x="456.1" y="405.1" width="78.5" height="120.6" rx="3" fill="#808080" stroke="#6e6e6e" stroke-width="1"/>
<path d="M484.8,405.6 A10.6,10.6 0 0 0 506,405.6 Z" fill="#666666"/>
<text x="-45.33" y="8.25" font-size="23.98" fill="#fff" stroke="#fff" stroke-width="0.3" transform="translate(496.20 464.50) rotate(-90) scale(0.813 1)">LM393N</text>
<path d="M375.8,513 L375.8,568.5 Q370,570 360,570 A29.6,29.6 0 0 1 360,510.8 Q370,510.8 375.8,513 Z" fill="#7f7f7f" stroke="#6a6a6a" stroke-width="0.8"/>
<circle cx="359.4" cy="509.4" r="5.4" fill="#00a8e0"/>
<circle cx="359.4" cy="539.4" r="5.4" fill="#00a8e0"/>
<circle cx="359.4" cy="569.4" r="5.4" fill="#00a8e0"/>
<text x="-12.81" y="7.75" font-size="22.53" fill="#fff" stroke="#fff" stroke-width="0.3" transform="translate(353.00 541.00) scale(0.914 1)">T2</text>
<line x1="359.4" y1="299.4" x2="359.4" y2="419.4" stroke="#8f8f8f" stroke-width="7.2" stroke-linecap="round"/>
<line x1="359.4" y1="299.4" x2="359.4" y2="419.4" stroke="#c4c4c4" stroke-width="5.4" stroke-linecap="round"/>
<path transform="translate(359.40 359.40) rotate(90.000)" d="M-20.98,-12.8 L20.98,-12.8 A15.6,15.6 0 1 1 20.98,12.8 L-20.98,12.8 A15.6,15.6 0 1 1 -20.98,-12.8 Z" fill="#87cefa" stroke="#5a93b8" stroke-width="1.1"/>
<text x="-15.32" y="8.00" font-size="23.26" fill="#000" stroke="#000" stroke-width="0.3" transform="translate(360.30 366.00) rotate(-90) scale(0.981 1)">R8</text>
<g transform="translate(359.40 359.40) rotate(90.000)">
<rect x="-21.3" y="-11" width="3" height="22" fill="#ffff00"/>
<rect x="-13.7" y="-11" width="3" height="22" fill="#9b1fa0"/>
<rect x="-6.2" y="-11" width="3" height="22" fill="#000000"/>
<rect x="1.1" y="-11" width="3" height="22" fill="#8b4513"/>
</g>
<line x1="569.4" y1="449.4" x2="569.4" y2="299.4" stroke="#8f8f8f" stroke-width="7.2" stroke-linecap="round"/>
<line x1="569.4" y1="449.4" x2="569.4" y2="299.4" stroke="#c4c4c4" stroke-width="5.4" stroke-linecap="round"/>
<path transform="translate(569.40 374.40) rotate(-90.000)" d="M-20.98,-12.8 L20.98,-12.8 A15.6,15.6 0 1 1 20.98,12.8 L-20.98,12.8 A15.6,15.6 0 1 1 -20.98,-12.8 Z" fill="#87cefa" stroke="#5a93b8" stroke-width="1.1"/>
<text x="-21.77" y="8.00" font-size="23.26" fill="#000" stroke="#000" stroke-width="0.3" transform="translate(569.80 372.00) rotate(-90) scale(0.869 1)">R13</text>
<g transform="translate(569.40 374.40) rotate(-90.000)">
<rect x="-21.3" y="-11" width="3" height="22" fill="#8b4513"/>
<rect x="-13.7" y="-11" width="3" height="22" fill="#000000"/>
<rect x="-6.2" y="-11" width="3" height="22" fill="#000000"/>
<rect x="1.1" y="-11" width="3" height="22" fill="#000000"/>
</g>
<line x1="419.4" y1="569.4" x2="419.4" y2="689.4" stroke="#8f8f8f" stroke-width="7.2" stroke-linecap="round"/>
<line x1="419.4" y1="569.4" x2="419.4" y2="689.4" stroke="#c4c4c4" stroke-width="5.4" stroke-linecap="round"/>
<path transform="translate(419.40 629.40) rotate(90.000)" d="M-20.98,-12.8 L20.98,-12.8 A15.6,15.6 0 1 1 20.98,12.8 L-20.98,12.8 A15.6,15.6 0 1 1 -20.98,-12.8 Z" fill="#87cefa" stroke="#5a93b8" stroke-width="1.1"/>
<text x="-15.49" y="8.00" font-size="23.26" fill="#000" stroke="#000" stroke-width="0.3" transform="translate(420.20 636.00) rotate(-90) scale(0.958 1)">R4</text>
<g transform="translate(419.40 629.40) rotate(90.000)">
<rect x="-21.3" y="-11" width="3" height="22" fill="#ffff00"/>
<rect x="-13.7" y="-11" width="3" height="22" fill="#9b1fa0"/>
<rect x="-6.2" y="-11" width="3" height="22" fill="#000000"/>
<rect x="1.1" y="-11" width="3" height="22" fill="#000000"/>
</g>
<line x1="449.4" y1="569.4" x2="449.4" y2="689.4" stroke="#8f8f8f" stroke-width="7.2" stroke-linecap="round"/>
<line x1="449.4" y1="569.4" x2="449.4" y2="689.4" stroke="#c4c4c4" stroke-width="5.4" stroke-linecap="round"/>
<path transform="translate(449.40 629.40) rotate(90.000)" d="M-20.98,-12.8 L20.98,-12.8 A15.6,15.6 0 1 1 20.98,12.8 L-20.98,12.8 A15.6,15.6 0 1 1 -20.98,-12.8 Z" fill="#87cefa" stroke="#5a93b8" stroke-width="1.1"/>
<text x="-15.35" y="8.00" font-size="23.26" fill="#000" stroke="#000" stroke-width="0.3" transform="translate(449.80 636.00) rotate(-90) scale(0.968 1)">R5</text>
<g transform="translate(449.40 629.40) rotate(90.000)">
<rect x="-21.3" y="-11" width="3" height="22" fill="#ffff00"/>
<rect x="-13.7" y="-11" width="3" height="22" fill="#9b1fa0"/>
<rect x="-6.2" y="-11" width="3" height="22" fill="#000000"/>
<rect x="1.1" y="-11" width="3" height="22" fill="#000000"/>
</g>
<line x1="569.4" y1="509.4" x2="569.4" y2="689.4" stroke="#8f8f8f" stroke-width="7.2" stroke-linecap="round"/>
<line x1="569.4" y1="509.4" x2="569.4" y2="689.4" stroke="#c4c4c4" stroke-width="5.4" stroke-linecap="round"/>
<path transform="translate(569.40 599.40) rotate(90.000)" d="M-20.98,-12.8 L20.98,-12.8 A15.6,15.6 0 1 1 20.98,12.8 L-20.98,12.8 A15.6,15.6 0 1 1 -20.98,-12.8 Z" fill="#87cefa" stroke="#5a93b8" stroke-width="1.1"/>
<text x="-15.29" y="8.00" font-size="23.26" fill="#000" stroke="#000" stroke-width="0.3" transform="translate(572.30 607.40) rotate(-90) scale(0.853 1)">R9</text>
<g transform="translate(569.40 599.40) rotate(90.000)">
<rect x="-21.3" y="-11" width="3" height="22" fill="#ffff00"/>
<rect x="-13.7" y="-11" width="3" height="22" fill="#9b1fa0"/>
<rect x="-6.2" y="-11" width="3" height="22" fill="#000000"/>
<rect x="1.1" y="-11" width="3" height="22" fill="#ff0000"/>
</g>
<line x1="539.4" y1="689.4" x2="569.4" y2="479.4" stroke="#8f8f8f" stroke-width="7.2" stroke-linecap="round"/>
<line x1="539.4" y1="689.4" x2="569.4" y2="479.4" stroke="#c4c4c4" stroke-width="5.4" stroke-linecap="round"/>
<path transform="translate(554.40 584.40) rotate(-81.870)" d="M-20.98,-12.8 L20.98,-12.8 A15.6,15.6 0 1 1 20.98,12.8 L-20.98,12.8 A15.6,15.6 0 1 1 -20.98,-12.8 Z" fill="#87cefa" stroke="#5a93b8" stroke-width="1.1"/>
<text x="-21.83" y="8.00" font-size="23.26" fill="#000" stroke="#000" stroke-width="0.3" transform="translate(553.00 583.00) rotate(-81.87) scale(0.854 1)">R10</text>
<g transform="translate(554.40 584.40) rotate(-81.870)">
<rect x="-21.3" y="-11" width="3" height="22" fill="#8b4513"/>
<rect x="-13.7" y="-11" width="3" height="22" fill="#000000"/>
<rect x="-6.2" y="-11" width="3" height="22" fill="#000000"/>
<rect x="1.1" y="-11" width="3" height="22" fill="#ff0000"/>
</g>
<line x1="419.4" y1="779.4" x2="539.4" y2="599.4" stroke="#8f8f8f" stroke-width="7.2" stroke-linecap="round"/>
<line x1="419.4" y1="779.4" x2="539.4" y2="599.4" stroke="#c4c4c4" stroke-width="5.4" stroke-linecap="round"/>
<path transform="translate(479.40 689.40) rotate(-56.310)" d="M-20.98,-12.8 L20.98,-12.8 A15.6,15.6 0 1 1 20.98,12.8 L-20.98,12.8 A15.6,15.6 0 1 1 -20.98,-12.8 Z" fill="#87cefa" stroke="#5a93b8" stroke-width="1.1"/>
<text x="-15.32" y="8.00" font-size="23.26" fill="#000" stroke="#000" stroke-width="0.3" transform="translate(485.50 684.00) rotate(-56.3) scale(1.007 1)">R6</text>
<g transform="translate(479.40 689.40) rotate(-56.310)">
<rect x="-21.3" y="-11" width="3" height="22" fill="#8b4513"/>
<rect x="-13.7" y="-11" width="3" height="22" fill="#000000"/>
<rect x="-6.2" y="-11" width="3" height="22" fill="#000000"/>
<rect x="1.1" y="-11" width="3" height="22" fill="#ff0000"/>
</g>
<line x1="659.4" y1="599.4" x2="659.4" y2="689.4" stroke="#8f8f8f" stroke-width="7.2" stroke-linecap="round"/>
<line x1="659.4" y1="599.4" x2="659.4" y2="689.4" stroke="#c4c4c4" stroke-width="5.4" stroke-linecap="round"/>
<path transform="translate(659.40 644.40) rotate(90.000)" d="M-20.98,-12.8 L20.98,-12.8 A15.6,15.6 0 1 1 20.98,12.8 L-20.98,12.8 A15.6,15.6 0 1 1 -20.98,-12.8 Z" fill="#87cefa" stroke="#5a93b8" stroke-width="1.1"/>
<text x="-15.23" y="8.00" font-size="23.26" fill="#000" stroke="#000" stroke-width="0.3" transform="translate(661.50 651.00) rotate(-90) scale(0.984 1)">R7</text>
<g transform="translate(659.40 644.40) rotate(90.000)">
<rect x="-21.3" y="-11" width="3" height="22" fill="#ffb000"/>
<rect x="-13.7" y="-11" width="3" height="22" fill="#0000ff"/>
<rect x="-6.2" y="-11" width="3" height="22" fill="#000000"/>
<rect x="1.1" y="-11" width="3" height="22" fill="#000000"/>
</g>
<line x1="779.4" y1="449.4" x2="659.4" y2="449.4" stroke="#8f8f8f" stroke-width="7.2" stroke-linecap="round"/>
<line x1="779.4" y1="449.4" x2="659.4" y2="449.4" stroke="#c4c4c4" stroke-width="5.4" stroke-linecap="round"/>
<path transform="translate(719.40 449.40) rotate(180.000)" d="M-20.98,-12.8 L20.98,-12.8 A15.6,15.6 0 1 1 20.98,12.8 L-20.98,12.8 A15.6,15.6 0 1 1 -20.98,-12.8 Z" fill="#87cefa" stroke="#5a93b8" stroke-width="1.1"/>
<text x="-21.69" y="8.00" font-size="23.26" fill="#000" stroke="#000" stroke-width="0.3" transform="translate(720.20 450.60) scale(1.029 1)">R12</text>
<g transform="translate(719.40 449.40) rotate(180.000)">
<rect x="-21.3" y="-11" width="3" height="22" fill="#ffff00"/>
<rect x="-13.7" y="-11" width="3" height="22" fill="#9b1fa0"/>
<rect x="-6.2" y="-11" width="3" height="22" fill="#000000"/>
<rect x="1.1" y="-11" width="3" height="22" fill="#8b4513"/>
</g>
<line x1="659.4" y1="479.4" x2="749.4" y2="479.4" stroke="#8f8f8f" stroke-width="7.2" stroke-linecap="round"/>
<line x1="659.4" y1="479.4" x2="749.4" y2="479.4" stroke="#c4c4c4" stroke-width="5.4" stroke-linecap="round"/>
<path transform="translate(704.40 479.40) rotate(0.000)" d="M-20.98,-12.8 L20.98,-12.8 A15.6,15.6 0 1 1 20.98,12.8 L-20.98,12.8 A15.6,15.6 0 1 1 -20.98,-12.8 Z" fill="#87cefa" stroke="#5a93b8" stroke-width="1.1"/>
<text x="-20.87" y="8.00" font-size="23.26" fill="#000" stroke="#000" stroke-width="0.3" transform="translate(707.50 481.20) scale(0.871 1)">R11</text>
<g transform="translate(704.40 479.40) rotate(0.000)">
<rect x="-21.3" y="-11" width="3" height="22" fill="#8b4513"/>
<rect x="-13.7" y="-11" width="3" height="22" fill="#000000"/>
<rect x="-6.2" y="-11" width="3" height="22" fill="#000000"/>
<rect x="1.1" y="-11" width="3" height="22" fill="#ffb000"/>
</g>
<line x1="389.4" y1="389.4" x2="389.4" y2="449.4" stroke="#8f8f8f" stroke-width="7.2" stroke-linecap="round"/>
<line x1="389.4" y1="389.4" x2="389.4" y2="449.4" stroke="#c4c4c4" stroke-width="5.4" stroke-linecap="round"/>
<ellipse cx="390.2" cy="419.6" rx="18.8" ry="22.5" fill="#f0e68c" stroke="#b5a862" stroke-width="1.1"/>
<text x="-21.45" y="8.00" font-size="23.26" fill="#000" stroke="#000" stroke-width="0.3" transform="translate(390.30 421.20) rotate(-90) scale(0.803 1)">C10</text>
<line x1="389.4" y1="509.4" x2="389.4" y2="569.4" stroke="#8f8f8f" stroke-width="7.2" stroke-linecap="round"/>
<line x1="389.4" y1="509.4" x2="389.4" y2="569.4" stroke="#c4c4c4" stroke-width="5.4" stroke-linecap="round"/>
<ellipse cx="389.6" cy="539.6" rx="18.8" ry="22.5" fill="#f0e68c" stroke="#b5a862" stroke-width="1.1"/>
<text x="-14.85" y="8.00" font-size="23.26" fill="#000" stroke="#000" stroke-width="0.3" transform="translate(390.30 539.80) rotate(-90) scale(0.822 1)">C7</text>
<line x1="659.4" y1="389.4" x2="659.4" y2="419.4" stroke="#8f8f8f" stroke-width="7.2" stroke-linecap="round"/>
<line x1="659.4" y1="389.4" x2="659.4" y2="419.4" stroke="#c4c4c4" stroke-width="5.4" stroke-linecap="round"/>
<ellipse cx="660.1" cy="405.0" rx="18.8" ry="15.3" fill="#f0e68c" stroke="#b5a862" stroke-width="1.1"/>
<text x="-20.49" y="8.00" font-size="23.26" fill="#000" stroke="#000" stroke-width="0.3" transform="translate(660.10 403.10) rotate(-90) scale(0.905 1)">C11</text>
<line x1="599.4" y1="509.4" x2="599.4" y2="599.4" stroke="#8f8f8f" stroke-width="7.2" stroke-linecap="round"/>
<line x1="599.4" y1="509.4" x2="599.4" y2="599.4" stroke="#c4c4c4" stroke-width="5.4" stroke-linecap="round"/>
<clipPath id="c8clip"><circle cx="599.9" cy="554.7" r="29"/></clipPath>
<circle cx="599.9" cy="554.7" r="29" fill="#6b6bcf"/>
<rect x="570" y="572.4" width="60" height="20" fill="#8aa6e6" clip-path="url(#c8clip)"/>
<circle cx="599.9" cy="554.7" r="29" fill="none" stroke="#4b4b9e" stroke-width="1.2"/>
<rect x="596.5" y="577" width="7" height="2.6" fill="#fff"/>
<text x="-14.94" y="8.00" font-size="23.26" fill="#fff" stroke="#fff" stroke-width="0.3" transform="translate(600.30 555.60) rotate(-90) scale(0.813 1)">C8</text>
<line x1="629.4" y1="479.4" x2="629.4" y2="599.4" stroke="#8f8f8f" stroke-width="7.2" stroke-linecap="round"/>
<line x1="629.4" y1="479.4" x2="629.4" y2="599.4" stroke="#c4c4c4" stroke-width="5.4" stroke-linecap="round"/>
<ellipse cx="630.2" cy="539.8" rx="18.8" ry="22.5" fill="#f0e68c" stroke="#b5a862" stroke-width="1.1"/>
<text x="-14.91" y="8.00" font-size="23.26" fill="#000" stroke="#000" stroke-width="0.3" transform="translate(630.20 539.80) rotate(-90) scale(0.818 1)">C9</text>
<line x1="449.4" y1="779.4" x2="539.4" y2="779.4" stroke="#8f8f8f" stroke-width="7.2" stroke-linecap="round"/>
<line x1="449.4" y1="779.4" x2="539.4" y2="779.4" stroke="#c4c4c4" stroke-width="5.4" stroke-linecap="round"/>
<g transform="translate(494.40 779.40) rotate(0.000)">
<rect x="-30.7" y="-12.6" width="61.6" height="25.2" fill="#dcebf8" stroke="#8a8a8a" stroke-width="1.1"/>
<rect x="-20.6" y="-9.7" width="48.2" height="19.6" fill="#e36b2f"/>
<rect x="-30.7" y="-12.6" width="10.1" height="25.2" fill="#808080"/>
</g>
<text x="-15.06" y="7.85" font-size="22.82" fill="#fff" stroke="#fff" stroke-width="0.3" transform="translate(494.40 779.40) scale(0.854 1)">D5</text>
<line x1="599.4" y1="779.4" x2="599.4" y2="689.4" stroke="#8f8f8f" stroke-width="7.2" stroke-linecap="round"/>
<line x1="599.4" y1="779.4" x2="599.4" y2="689.4" stroke="#c4c4c4" stroke-width="5.4" stroke-linecap="round"/>
<g transform="translate(599.40 734.40) rotate(-90.000)">
<rect x="-30.7" y="-12.6" width="61.6" height="25.2" fill="#dcebf8" stroke="#8a8a8a" stroke-width="1.1"/>
<rect x="-20.6" y="-9.7" width="48.2" height="19.6" fill="#e36b2f"/>
<rect x="-30.7" y="-12.6" width="10.1" height="25.2" fill="#808080"/>
</g>
<text x="-15.03" y="7.85" font-size="22.82" fill="#fff" stroke="#fff" stroke-width="0.3" transform="translate(599.40 734.40) rotate(-90) scale(0.856 1)">D6</text>
<line x1="329.4" y1="779.4" x2="329.4" y2="1049.4" stroke="#8f8f8f" stroke-width="7.2" stroke-linecap="round"/>
<line x1="329.4" y1="779.4" x2="329.4" y2="1049.4" stroke="#c4c4c4" stroke-width="5.4" stroke-linecap="round"/>
<g transform="translate(329.40 914.40) rotate(90.000)">
<rect x="-30.7" y="-12.6" width="61.6" height="25.2" fill="#dcebf8" stroke="#8a8a8a" stroke-width="1.1"/>
<rect x="-20.6" y="-9.7" width="48.2" height="19.6" fill="#e36b2f"/>
<rect x="-30.7" y="-12.6" width="10.1" height="25.2" fill="#808080"/>
</g>
<text x="-15.03" y="7.85" font-size="22.82" fill="#fff" stroke="#fff" stroke-width="0.3" transform="translate(329.40 914.40) rotate(-90) scale(0.856 1)">D3</text>
<line x1="359.4" y1="779.4" x2="359.4" y2="989.4" stroke="#8f8f8f" stroke-width="7.2" stroke-linecap="round"/>
<line x1="359.4" y1="779.4" x2="359.4" y2="989.4" stroke="#c4c4c4" stroke-width="5.4" stroke-linecap="round"/>
<g transform="translate(359.40 884.40) rotate(90.000)">
<rect x="-30.7" y="-12.6" width="61.6" height="25.2" fill="#dcebf8" stroke="#8a8a8a" stroke-width="1.1"/>
<rect x="-20.6" y="-9.7" width="48.2" height="19.6" fill="#e36b2f"/>
<rect x="-30.7" y="-12.6" width="10.1" height="25.2" fill="#808080"/>
</g>
<text x="-14.98" y="7.85" font-size="22.82" fill="#fff" stroke="#fff" stroke-width="0.3" transform="translate(359.40 884.40) rotate(-90) scale(0.859 1)">D1</text>
<line x1="389.4" y1="989.4" x2="569.4" y2="779.4" stroke="#8f8f8f" stroke-width="7.2" stroke-linecap="round"/>
<line x1="389.4" y1="989.4" x2="569.4" y2="779.4" stroke="#c4c4c4" stroke-width="5.4" stroke-linecap="round"/>
<g transform="translate(479.40 884.40) rotate(-49.399)">
<rect x="-30.7" y="-12.6" width="61.6" height="25.2" fill="#dcebf8" stroke="#8a8a8a" stroke-width="1.1"/>
<rect x="-20.6" y="-9.7" width="48.2" height="19.6" fill="#e36b2f"/>
<rect x="-30.7" y="-12.6" width="10.1" height="25.2" fill="#808080"/>
</g>
<text x="-14.95" y="7.85" font-size="22.82" fill="#fff" stroke="#fff" stroke-width="0.3" transform="translate(479.40 884.40) rotate(-49.4) scale(0.861 1)">D2</text>
<line x1="389.4" y1="1049.4" x2="629.4" y2="779.4" stroke="#8f8f8f" stroke-width="7.2" stroke-linecap="round"/>
<line x1="389.4" y1="1049.4" x2="629.4" y2="779.4" stroke="#c4c4c4" stroke-width="5.4" stroke-linecap="round"/>
<g transform="translate(509.40 914.40) rotate(-48.366)">
<rect x="-30.7" y="-12.6" width="61.6" height="25.2" fill="#dcebf8" stroke="#8a8a8a" stroke-width="1.1"/>
<rect x="-20.6" y="-9.7" width="48.2" height="19.6" fill="#e36b2f"/>
<rect x="-30.7" y="-12.6" width="10.1" height="25.2" fill="#808080"/>
</g>
<text x="-15.20" y="7.85" font-size="22.82" fill="#fff" stroke="#fff" stroke-width="0.3" transform="translate(509.40 914.40) rotate(-48.4) scale(0.845 1)">D4</text>
<line x1="419.4" y1="989.4" x2="419.4" y2="1049.4" stroke="#8f8f8f" stroke-width="7.2" stroke-linecap="round"/>
<line x1="419.4" y1="989.4" x2="419.4" y2="1049.4" stroke="#c4c4c4" stroke-width="5.4" stroke-linecap="round"/>
<ellipse cx="419.5" cy="1019.7" rx="18.8" ry="22.5" fill="#f0e68c" stroke="#b5a862" stroke-width="1.1"/>
<text x="-14.97" y="8.00" font-size="23.26" fill="#000" stroke="#000" stroke-width="0.3" transform="translate(419.50 1019.70) rotate(-90) scale(0.815 1)">C5</text>
<path d="M449.6,990.8 a9.16,9.5 0 0 1 18.32,0 a9.16,9.5 0 0 1 18.32,0 a9.16,9.5 0 0 1 18.32,0 a9.16,9.5 0 0 1 18.32,0 a9.16,9.5 0 0 1 18.32,0" fill="none" stroke="#0000ff" stroke-width="2"/>
<path d="M449.6,1050.8 a9.16,9.5 0 0 1 18.32,0 a9.16,9.5 0 0 1 18.32,0 a9.16,9.5 0 0 1 18.32,0 a9.16,9.5 0 0 1 18.32,0 a9.16,9.5 0 0 1 18.32,0" fill="none" stroke="#0000ff" stroke-width="2"/>
<text x="0" y="0" font-size="23.11" fill="#000" font-weight="normal" font-style="normal" stroke="#000" stroke-width="0.45" transform="translate(484.94 977.30) scale(0.817 1)">L1</text>
<text x="0" y="0" font-size="22.24" fill="#000" font-weight="normal" font-style="normal" stroke="#000" stroke-width="0.45" transform="translate(484.94 1036.50) scale(0.851 1)">L2</text>
<path d="M566.4,960.1V990.7M573.5,960.1V990.7" stroke="#0000ff" stroke-width="1.7"/>
<path d="M566.4,1020.6V1050.5M573.5,1020.6V1050.5" stroke="#0000ff" stroke-width="1.7"/>
<line x1="121" y1="779.8" x2="301" y2="779.8" stroke="#22ee22" stroke-width="1.5"/>
<line x1="690" y1="690.4" x2="871.4" y2="690.4" stroke="#22ee22" stroke-width="1.5"/>
<text x="0" y="0" font-size="22.24" fill="#000" font-weight="bold" font-style="italic" stroke="#000" stroke-width="0" transform="translate(61.20 788.40) scale(0.942 1)">UEMS</text>
<text x="0" y="0" font-size="21.51" fill="#000" font-weight="bold" font-style="italic" stroke="#000" stroke-width="0" transform="translate(874.00 698.20) scale(0.969 1)">UREF</text>
<path d="M539.4,179.4 C406.6,205.1 360.8,225.7 449.6,389.6" fill="none" stroke="#000000" stroke-width="12.1" stroke-linecap="round"/>
<path d="M539.4,179.4 C406.6,205.1 360.8,225.7 449.6,389.6" fill="none" stroke="#000000" stroke-width="10.5" stroke-linecap="round"/>
<circle cx="539.9" cy="179.7" r="9.2" fill="none" stroke="#000" stroke-width="8.6"/>
<circle cx="539.9" cy="179.7" r="4.9" fill="#fff"/>
<circle cx="449.9" cy="389.7" r="9.2" fill="none" stroke="#000" stroke-width="8.6"/>
<circle cx="449.9" cy="389.7" r="4.9" fill="#fff"/>
<path d="M539.4,209.4 C489.3,246.1 425.1,205.9 449.8,299.6" fill="none" stroke="#ff3333" stroke-width="12.1" stroke-linecap="round"/>
<path d="M539.4,209.4 C489.3,246.1 425.1,205.9 449.8,299.6" fill="none" stroke="#ff3333" stroke-width="10.5" stroke-linecap="round"/>
<circle cx="539.9" cy="209.7" r="9.2" fill="none" stroke="#000" stroke-width="8.6"/>
<circle cx="539.9" cy="209.7" r="4.9" fill="#fff"/>
<circle cx="449.9" cy="299.7" r="9.2" fill="none" stroke="#000" stroke-width="8.6"/>
<circle cx="449.9" cy="299.7" r="4.9" fill="#fff"/>
<circle cx="90.0" cy="89.7" r="9.2" fill="none" stroke="#000" stroke-width="8.6"/>
<circle cx="90.0" cy="89.7" r="4.9" fill="#fff"/>
<path d="M90.0,89.7 C264.0,150.3 568.7,115.6 540.4,299.8" fill="none" stroke="#0000a0" stroke-width="12.200000000000001" stroke-linecap="round"/>
<path d="M90.0,89.7 C264.0,150.3 568.7,115.6 540.4,299.8" fill="none" stroke="#0000ff" stroke-width="9.8" stroke-linecap="round"/>
<circle cx="749.9" cy="119.7" r="9.2" fill="none" stroke="#000" stroke-width="8.6"/>
<circle cx="749.9" cy="119.7" r="4.9" fill="#fff"/>
<circle cx="749.9" cy="179.7" r="9.2" fill="none" stroke="#000" stroke-width="8.6"/>
<circle cx="749.9" cy="179.7" r="4.9" fill="#fff"/>
<line x1="749.9" y1="119.7" x2="749.9" y2="179.7" stroke="#000000" stroke-width="7.2" stroke-linecap="round"/>
<line x1="749.9" y1="119.7" x2="749.9" y2="179.7" stroke="#000000" stroke-width="6.0" stroke-linecap="round"/>
<circle cx="779.9" cy="119.7" r="9.2" fill="none" stroke="#000" stroke-width="8.6"/>
<circle cx="779.9" cy="119.7" r="4.9" fill="#fff"/>
<circle cx="779.9" cy="179.7" r="9.2" fill="none" stroke="#000" stroke-width="8.6"/>
<circle cx="779.9" cy="179.7" r="4.9" fill="#fff"/>
<line x1="779.9" y1="119.7" x2="779.9" y2="179.7" stroke="#cc0000" stroke-width="7.2" stroke-linecap="round"/>
<line x1="779.9" y1="119.7" x2="779.9" y2="179.7" stroke="#ff0000" stroke-width="6.0" stroke-linecap="round"/>
<circle cx="659.9" cy="179.7" r="9.2" fill="none" stroke="#000" stroke-width="8.6"/>
<circle cx="659.9" cy="179.7" r="4.9" fill="#fff"/>
<circle cx="749.9" cy="179.7" r="9.2" fill="none" stroke="#000" stroke-width="8.6"/>
<circle cx="749.9" cy="179.7" r="4.9" fill="#fff"/>
<line x1="659.9" y1="179.7" x2="749.9" y2="179.7" stroke="#000000" stroke-width="7.2" stroke-linecap="round"/>
<line x1="659.9" y1="179.7" x2="749.9" y2="179.7" stroke="#000000" stroke-width="6.0" stroke-linecap="round"/>
<circle cx="659.9" cy="209.7" r="9.2" fill="none" stroke="#000" stroke-width="8.6"/>
<circle cx="659.9" cy="209.7" r="4.9" fill="#fff"/>
<circle cx="779.9" cy="209.7" r="9.2" fill="none" stroke="#000" stroke-width="8.6"/>
<circle cx="779.9" cy="209.7" r="4.9" fill="#fff"/>
<line x1="659.9" y1="209.7" x2="779.9" y2="209.7" stroke="#cc0000" stroke-width="7.2" stroke-linecap="round"/>
<line x1="659.9" y1="209.7" x2="779.9" y2="209.7" stroke="#ff0000" stroke-width="6.0" stroke-linecap="round"/>
<circle cx="599.9" cy="179.7" r="9.2" fill="none" stroke="#000" stroke-width="8.6"/>
<circle cx="599.9" cy="179.7" r="4.9" fill="#fff"/>
<circle cx="599.9" cy="389.7" r="9.2" fill="none" stroke="#000" stroke-width="8.6"/>
<circle cx="599.9" cy="389.7" r="4.9" fill="#fff"/>
<line x1="599.9" y1="179.7" x2="599.9" y2="389.7" stroke="#000000" stroke-width="7.2" stroke-linecap="round"/>
<line x1="599.9" y1="179.7" x2="599.9" y2="389.7" stroke="#000000" stroke-width="6.0" stroke-linecap="round"/>
<circle cx="629.9" cy="209.7" r="9.2" fill="none" stroke="#000" stroke-width="8.6"/>
<circle cx="629.9" cy="209.7" r="4.9" fill="#fff"/>
<circle cx="629.9" cy="419.7" r="9.2" fill="none" stroke="#000" stroke-width="8.6"/>
<circle cx="629.9" cy="419.7" r="4.9" fill="#fff"/>
<line x1="629.9" y1="209.7" x2="629.9" y2="419.7" stroke="#cc2222" stroke-width="7.2" stroke-linecap="round"/>
<line x1="629.9" y1="209.7" x2="629.9" y2="419.7" stroke="#ff3333" stroke-width="6.0" stroke-linecap="round"/>
<circle cx="90.0" cy="179.6" r="9.2" fill="none" stroke="#000" stroke-width="8.6"/>
<circle cx="90.0" cy="179.6" r="4.9" fill="#fff"/>
<circle cx="359.9" cy="449.7" r="9.2" fill="none" stroke="#000" stroke-width="8.6"/>
<circle cx="359.9" cy="449.7" r="4.9" fill="#fff"/>
<path d="M90.0,179.6 C93.2,358.3 87.8,449.6 360.0,449.8" fill="none" stroke="#9a9a9a" stroke-width="11.8" stroke-linecap="round"/>
<path d="M90.0,179.6 C93.2,358.3 87.8,449.6 360.0,449.8" fill="none" stroke="#ffffff" stroke-width="9.6" stroke-linecap="round"/>
<line x1="329.9" y1="419.7" x2="329.9" y2="539.7" stroke="#d8d800" stroke-width="6.7" stroke-linecap="round"/>
<line x1="329.9" y1="419.7" x2="329.9" y2="539.7" stroke="#ffff00" stroke-width="5.5" stroke-linecap="round"/>
<circle cx="419.9" cy="389.7" r="9.2" fill="none" stroke="#000" stroke-width="8.6"/>
<circle cx="419.9" cy="389.7" r="4.9" fill="#fff"/>
<circle cx="419.9" cy="509.7" r="9.2" fill="none" stroke="#000" stroke-width="8.6"/>
<circle cx="419.9" cy="509.7" r="4.9" fill="#fff"/>
<line x1="419.9" y1="389.7" x2="419.9" y2="509.7" stroke="#d8d800" stroke-width="6.7" stroke-linecap="round"/>
<line x1="419.9" y1="389.7" x2="419.9" y2="509.7" stroke="#ffff00" stroke-width="5.5" stroke-linecap="round"/>
<circle cx="359.9" cy="479.7" r="9.2" fill="none" stroke="#000" stroke-width="8.6"/>
<circle cx="359.9" cy="479.7" r="4.9" fill="#fff"/>
<circle cx="629.9" cy="689.7" r="9.2" fill="none" stroke="#000" stroke-width="8.6"/>
<circle cx="629.9" cy="689.7" r="4.9" fill="#fff"/>
<path d="M359.4,479.4 C573.9,421.0 387.6,626.3 629.4,689.4" fill="none" stroke="#a8a800" stroke-width="12.6" stroke-linecap="round"/>
<path d="M359.4,479.4 C573.9,421.0 387.6,626.3 629.4,689.4" fill="none" stroke="#ffff00" stroke-width="11" stroke-linecap="round"/>
<circle cx="389.9" cy="689.7" r="9.2" fill="none" stroke="#000" stroke-width="8.6"/>
<circle cx="389.9" cy="689.7" r="4.9" fill="#fff"/>
<circle cx="389.9" cy="779.7" r="9.2" fill="none" stroke="#000" stroke-width="8.6"/>
<circle cx="389.9" cy="779.7" r="4.9" fill="#fff"/>
<line x1="389.9" y1="689.7" x2="389.9" y2="779.7" stroke="#d05000" stroke-width="7.2" stroke-linecap="round"/>
<line x1="389.9" y1="689.7" x2="389.9" y2="779.7" stroke="#ff6a00" stroke-width="6" stroke-linecap="round"/>
<circle cx="659.9" cy="779.7" r="9.2" fill="none" stroke="#000" stroke-width="8.6"/>
<circle cx="659.9" cy="779.7" r="4.9" fill="#fff"/>
<circle cx="749.9" cy="899.7" r="9.2" fill="none" stroke="#000" stroke-width="8.6"/>
<circle cx="749.9" cy="899.7" r="4.9" fill="#fff"/>
<line x1="659.9" y1="779.7" x2="749.9" y2="899.7" stroke="#000000" stroke-width="7.2" stroke-linecap="round"/>
<line x1="659.9" y1="779.7" x2="749.9" y2="899.7" stroke="#000000" stroke-width="6" stroke-linecap="round"/>
<circle cx="659.9" cy="959.7" r="9.2" fill="none" stroke="#000" stroke-width="8.6"/>
<circle cx="659.9" cy="959.7" r="4.9" fill="#fff"/>
<circle cx="929.9" cy="929.7" r="9.2" fill="none" stroke="#000" stroke-width="8.6"/>
<circle cx="929.9" cy="929.7" r="4.9" fill="#fff"/>
<path d="M659.4,959.4 C819.0,961.3 833.9,991.3 929.4,929.6" fill="none" stroke="#00a000" stroke-width="12.399999999999999" stroke-linecap="round"/>
<path d="M659.4,959.4 C819.0,961.3 833.9,991.3 929.4,929.6" fill="none" stroke="#00ff00" stroke-width="10.2" stroke-linecap="round"/>
<circle cx="659.9" cy="1019.7" r="9.2" fill="none" stroke="#000" stroke-width="8.6"/>
<circle cx="659.9" cy="1019.7" r="4.9" fill="#fff"/>
<circle cx="929.9" cy="989.7" r="9.2" fill="none" stroke="#000" stroke-width="8.6"/>
<circle cx="929.9" cy="989.7" r="4.9" fill="#fff"/>
<path d="M659.4,1019.4 C852.1,1021.9 835.7,1048.9 929.4,989.4" fill="none" stroke="#00a000" stroke-width="12.399999999999999" stroke-linecap="round"/>
<path d="M659.4,1019.4 C852.1,1021.9 835.7,1048.9 929.4,989.4" fill="none" stroke="#00ff00" stroke-width="10.2" stroke-linecap="round"/>
<path d="M750.6,59.6V67.1 M726.8,67.1H773 M733.4,75.1H767 M739,82.6H761 M745.5,90H755 M748,97H752" stroke="#000" stroke-width="1.7" fill="none"/>
<text x="0" y="0" font-size="22.82" fill="#000" font-weight="normal" font-style="normal" stroke="#000" stroke-width="0.45" transform="translate(78.53 68.80) scale(0.781 1)">RX</text>
<text x="0" y="0" font-size="22.82" fill="#000" font-weight="normal" font-style="normal" stroke="#000" stroke-width="0.45" transform="translate(77.97 158.80) scale(0.836 1)">TX</text>
<text x="0" y="0" font-size="22.53" fill="#000" font-weight="normal" font-style="normal" stroke="#000" stroke-width="0.45" transform="translate(698.85 98.90) scale(0.840 1)">GND</text>
<text x="0" y="0" font-size="22.53" fill="#000" font-weight="normal" font-style="normal" stroke="#000" stroke-width="0.45" transform="translate(790.96 98.90) scale(0.875 1)">3.3V</text>
<text x="0" y="0" font-size="23.26" fill="#000" font-weight="normal" font-style="normal" stroke="#000" stroke-width="0.45" transform="translate(949.95 968.90) scale(0.858 1)">EMS bus</text>
<text x="0" y="0" font-size="22.97" fill="#000" font-weight="normal" font-style="normal" stroke="#000" stroke-width="0.45" transform="translate(29.78 1229.80) scale(0.909 1)">Breadboard</text>
<text x="0" y="0" font-size="22.97" fill="#000" font-weight="normal" font-style="normal" stroke="#000" stroke-width="0.45" transform="translate(29.75 1253.73) scale(0.829 1)">C5</text>
<text x="0" y="0" font-size="22.97" fill="#000" font-weight="normal" font-style="normal" stroke="#000" stroke-width="0.45" transform="translate(29.71 1277.66) scale(0.858 1)">C7</text>
<text x="0" y="0" font-size="22.97" fill="#000" font-weight="normal" font-style="normal" stroke="#000" stroke-width="0.45" transform="translate(29.75 1301.59) scale(0.830 1)">C8</text>
<text x="0" y="0" font-size="22.97" fill="#000" font-weight="normal" font-style="normal" stroke="#000" stroke-width="0.45" transform="translate(29.74 1325.52) scale(0.832 1)">C9</text>
<text x="0" y="0" font-size="22.97" fill="#000" font-weight="normal" font-style="normal" stroke="#000" stroke-width="0.45" transform="translate(29.74 1349.45) scale(0.838 1)">C10</text>
<text x="0" y="0" font-size="22.97" fill="#000" font-weight="normal" font-style="normal" stroke="#000" stroke-width="0.45" transform="translate(29.69 1373.38) scale(0.880 1)">C11</text>
<text x="0" y="0" font-size="22.97" fill="#000" font-weight="normal" font-style="normal" stroke="#000" stroke-width="0.45" transform="translate(273.96 1229.80) scale(0.964 1)">qty 1</text>
<text x="0" y="0" font-size="22.97" fill="#000" font-weight="normal" font-style="normal" stroke="#000" stroke-width="0.45" transform="translate(273.56 1253.73) scale(0.904 1)">68pF</text>
<text x="0" y="0" font-size="22.97" fill="#000" font-weight="normal" font-style="normal" stroke="#000" stroke-width="0.45" transform="translate(275.18 1277.66) scale(0.882 1)">1.5nF</text>
<text x="0" y="0" font-size="22.97" fill="#000" font-weight="normal" font-style="normal" stroke="#000" stroke-width="0.45" transform="translate(275.20 1301.59) scale(0.872 1)">10uF</text>
<text x="0" y="0" font-size="22.97" fill="#000" font-weight="normal" font-style="normal" stroke="#000" stroke-width="0.45" transform="translate(275.18 1325.52) scale(0.883 1)">1nF</text>
<text x="0" y="0" font-size="22.97" fill="#000" font-weight="normal" font-style="normal" stroke="#000" stroke-width="0.45" transform="translate(275.20 1349.45) scale(0.872 1)">10nF</text>
<text x="0" y="0" font-size="22.97" fill="#000" font-weight="normal" font-style="normal" stroke="#000" stroke-width="0.45" transform="translate(275.20 1373.38) scale(0.872 1)">100nF</text>
<text x="0" y="0" font-size="22.97" fill="#000" font-weight="normal" font-style="normal" stroke="#000" stroke-width="0.45" transform="translate(423.10 1229.80) scale(0.895 1)">D1, D2, D3, D4, D5, D6</text>
<text x="0" y="0" font-size="22.97" fill="#000" font-weight="normal" font-style="normal" stroke="#000" stroke-width="0.45" transform="translate(423.17 1253.73) scale(0.860 1)">L1, L2</text>
<text x="0" y="0" font-size="22.97" fill="#000" font-weight="normal" font-style="normal" stroke="#000" stroke-width="0.45" transform="translate(423.22 1277.66) scale(0.835 1)">LM393N</text>
<text x="0" y="0" font-size="22.97" fill="#000" font-weight="normal" font-style="normal" stroke="#000" stroke-width="0.45" transform="translate(423.13 1301.59) scale(0.880 1)">Polyfuse1, Polyfuse2</text>
<text x="0" y="0" font-size="22.97" fill="#000" font-weight="normal" font-style="normal" stroke="#000" stroke-width="0.45" transform="translate(423.19 1325.52) scale(0.852 1)">R4, R5</text>
<text x="0" y="0" font-size="22.97" fill="#000" font-weight="normal" font-style="normal" stroke="#000" stroke-width="0.45" transform="translate(423.19 1349.45) scale(0.851 1)">R6, R10</text>
<text x="0" y="0" font-size="22.97" fill="#000" font-weight="normal" font-style="normal" stroke="#000" stroke-width="0.45" transform="translate(423.26 1373.38) scale(0.814 1)">R7</text>
<text x="0" y="0" font-size="22.97" fill="#000" font-weight="normal" font-style="normal" stroke="#000" stroke-width="0.45" transform="translate(667.54 1229.80) scale(0.878 1)">BAT46</text>
<text x="0" y="0" font-size="22.97" fill="#000" font-weight="normal" font-style="normal" stroke="#000" stroke-width="0.45" transform="translate(667.64 1253.73) scale(0.890 1)">4.7uH</text>
<text x="0" y="0" font-size="22.97" fill="#000" font-weight="normal" font-style="normal" stroke="#000" stroke-width="0.45" transform="translate(667.16 1277.66) scale(0.962 1)">qty 1</text>
<text x="0" y="0" font-size="22.97" fill="#000" font-weight="normal" font-style="normal" stroke="#000" stroke-width="0.45" transform="translate(667.16 1301.59) scale(0.963 1)">qty 2</text>
<text x="0" y="0" font-size="22.97" fill="#000" font-weight="normal" font-style="normal" stroke="#000" stroke-width="0.45" transform="translate(667.65 1325.52) scale(0.869 1)">470Ω</text>
<text x="0" y="0" font-size="22.97" fill="#000" font-weight="normal" font-style="normal" stroke="#000" stroke-width="0.45" transform="translate(667.76 1349.45) scale(0.839 1)">10K</text>
<text x="0" y="0" font-size="22.97" fill="#000" font-weight="normal" font-style="normal" stroke="#000" stroke-width="0.45" transform="translate(667.35 1373.38) scale(0.875 1)">360Ω</text>
<text x="0" y="0" font-size="22.97" fill="#000" font-weight="normal" font-style="normal" stroke="#000" stroke-width="0.45" transform="translate(816.30 1229.80) scale(0.846 1)">R8, R12</text>
<text x="0" y="0" font-size="22.97" fill="#000" font-weight="normal" font-style="normal" stroke="#000" stroke-width="0.45" transform="translate(816.39 1253.73) scale(0.795 1)">R9</text>
<text x="0" y="0" font-size="22.97" fill="#000" font-weight="normal" font-style="normal" stroke="#000" stroke-width="0.45" transform="translate(816.30 1277.66) scale(0.844 1)">R11</text>
<text x="0" y="0" font-size="22.97" fill="#000" font-weight="normal" font-style="normal" stroke="#000" stroke-width="0.45" transform="translate(816.32 1301.59) scale(0.831 1)">R13</text>
<text x="0" y="0" font-size="22.97" fill="#000" font-weight="normal" font-style="normal" stroke="#000" stroke-width="0.45" transform="translate(816.37 1325.52) scale(0.833 1)">T2</text>
<text x="0" y="0" font-size="22.97" fill="#000" font-weight="normal" font-style="normal" stroke="#000" stroke-width="0.45" transform="translate(1060.46 1229.80) scale(0.861 1)">4.7K</text>
<text x="0" y="0" font-size="22.97" fill="#000" font-weight="normal" font-style="normal" stroke="#000" stroke-width="0.45" transform="translate(1060.47 1253.73) scale(0.841 1)">47K</text>
<text x="0" y="0" font-size="22.97" fill="#000" font-weight="normal" font-style="normal" stroke="#000" stroke-width="0.45" transform="translate(1061.36 1277.66) scale(0.837 1)">100K</text>
<text x="0" y="0" font-size="22.97" fill="#000" font-weight="normal" font-style="normal" stroke="#000" stroke-width="0.45" transform="translate(1061.32 1301.59) scale(0.859 1)">100Ω</text>
<text x="0" y="0" font-size="22.97" fill="#000" font-weight="normal" font-style="normal" stroke="#000" stroke-width="0.45" transform="translate(1061.21 1325.52) scale(0.839 1)">BC547B</text>
</svg>
</body></html>
